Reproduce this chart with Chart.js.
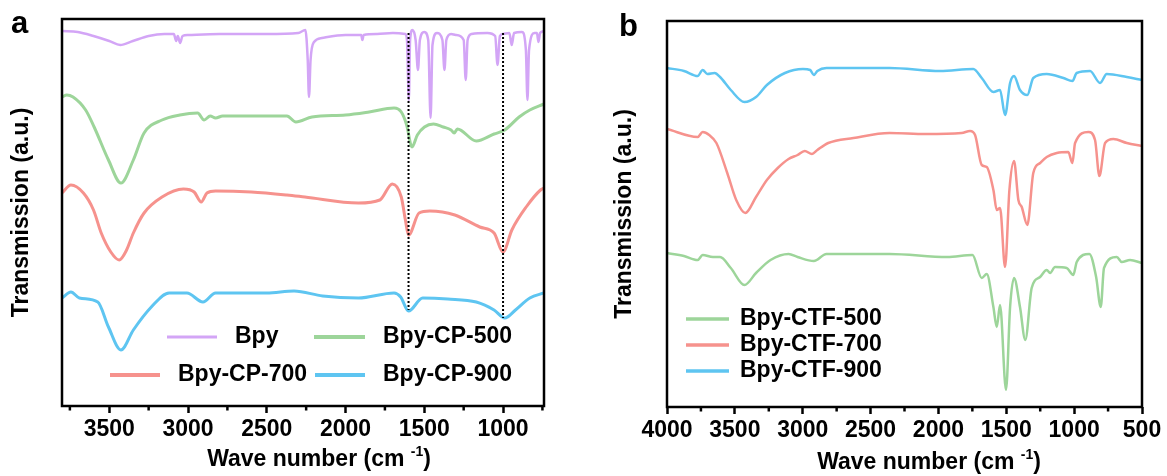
<!DOCTYPE html>
<html>
<head>
<meta charset="utf-8">
<script src="https://cdn.jsdelivr.net/npm/chart.js@4.4.1/dist/chart.umd.min.js"></script>
<style>
    html, body { margin: 0; padding: 0; background: #fff; }
    #wrap { position: relative; width: 1167px; height: 476px; }
    canvas { position: absolute; top: 0; }
    #ftirA { left: 0; }
    #ftirB { left: 583px; }
</style>
</head>
<body>
<div id="wrap">
    <canvas id="ftirA" width="583" height="476"></canvas>
    <canvas id="ftirB" width="584" height="476"></canvas>
</div>
<script>
(function () {
    "use strict";

    // Panel a: wave numbers (cm-1) and transmission (a.u.)
    const bpyWn = [3800, 3700, 3600, 3500, 3430, 3350, 3250, 3150, 3090, 3075, 3065, 3050, 3035, 3000, 2800, 2500, 2300, 2255, 2240, 2232, 2222, 2200, 2150, 2000, 1900, 1893, 1885, 1800, 1700, 1620, 1610, 1598, 1590, 1575, 1555, 1540, 1528, 1500, 1475, 1460, 1448, 1420, 1385, 1372, 1360, 1330, 1300, 1250, 1237, 1225, 1200, 1100, 1050, 1035, 1020, 1000, 960, 945, 930, 880, 855, 845, 835, 800, 785, 775, 765, 740];
    const bpyT = [375, 374, 370, 365, 361, 365, 370, 372, 372, 365, 370, 363, 370, 371, 372, 372, 373, 376, 346, 309, 346, 364, 368, 371, 371, 366, 371, 372, 373, 372, 366, 306, 366, 376, 366, 336, 366, 374, 366, 288, 361, 373, 366, 336, 366, 372, 371, 366, 326, 366, 372, 373, 370, 341, 370, 372, 373, 361, 373, 374, 356, 306, 356, 373, 373, 364, 373, 375];

    const cp500Wn = [3800, 3770, 3730, 3650, 3596, 3505, 3426, 3347, 3279, 3165, 3052, 2939, 2898, 2859, 2825, 2780, 2372, 2315, 2213, 2000, 1850, 1692, 1646, 1612, 1578, 1544, 1499, 1442, 1380, 1330, 1310, 1290, 1170, 1057, 989, 898, 830, 740];
    const cp500T = [309, 311, 309, 296, 279, 246, 223, 246, 273, 286, 291, 293, 286, 290, 288, 290, 290, 284, 289, 291, 294, 298, 294, 281, 259, 271, 279, 282, 279, 276, 273, 277, 265, 272, 276, 289, 296, 302];

    const cp700Wn = [3800, 3743, 3664, 3600, 3551, 3490, 3437, 3390, 3347, 3279, 3165, 3029, 2961, 2916, 2880, 2825, 2598, 2372, 2258, 1918, 1782, 1703, 1646, 1620, 1600, 1533, 1465, 1306, 1148, 1057, 1000, 944, 853, 762, 740];
    const cp700T = [213, 221, 213, 196, 173, 154, 146, 156, 173, 193, 209, 217, 214, 204, 213, 215, 214, 211, 209, 203, 206, 222, 209, 186, 171, 193, 195, 191, 179, 173, 154, 176, 199, 216, 218];

    const cp900Wn = [3800, 3743, 3690, 3573, 3505, 3426, 3347, 3233, 3120, 3007, 2905, 2825, 2500, 2327, 2145, 1918, 1692, 1650, 1600, 1510, 1351, 1170, 1057, 989, 921, 830, 740];
    const cp900T = [108, 114, 108, 104, 79, 56, 76, 99, 113, 113, 104, 113, 113, 115, 110, 108, 113, 109, 95, 108, 107, 104, 96, 88, 96, 108, 113];

    // dotted guide lines
    const guideWn = [1600, 1000];
    const guideTop = [373, 373];
    const guideBottom = [96, 88];

    // Panel b
    const ctf900Wn = [4000, 3875, 3774, 3737, 3702, 3649, 3609, 3530, 3429, 3344, 3264, 3131, 2998, 2945, 2918, 2892, 2825, 2360, 1988, 1743, 1681, 1595, 1546, 1509, 1472, 1443, 1399, 1345, 1301, 1202, 1079, 1013, 981, 883, 809, 760, 612, 502];
    const ctf900T = [339, 336, 331, 337, 333, 334, 330, 317, 305, 310, 322, 334, 338, 337, 332, 336, 339, 339, 336, 338, 329, 315, 317, 292, 324, 331, 317, 312, 329, 333, 329, 326, 334, 336, 324, 333, 330, 327];

    const ctf700Wn = [4000, 3774, 3737, 3689, 3636, 3556, 3490, 3423, 3344, 3264, 3184, 3104, 3038, 2985, 2932, 2892, 2812, 2626, 2360, 2094, 1829, 1767, 1730, 1681, 1644, 1595, 1570, 1546, 1509, 1477, 1443, 1411, 1386, 1345, 1301, 1251, 1202, 1128, 1043, 1013, 993, 895, 846, 814, 772, 711, 612, 502];
    const ctf700T = [278, 270, 275, 272, 264, 234, 207, 194, 210, 227, 239, 248, 252, 256, 253, 257, 264, 269, 274, 273, 274, 276, 272, 242, 240, 217, 197, 199, 140, 217, 246, 207, 200, 182, 234, 244, 250, 254, 255, 244, 264, 275, 267, 231, 264, 268, 264, 261];

    const ctf500Wn = [4000, 3875, 3774, 3737, 3662, 3609, 3530, 3429, 3344, 3237, 3104, 3038, 2918, 2825, 2360, 1935, 1749, 1681, 1644, 1595, 1570, 1546, 1502, 1472, 1443, 1399, 1360, 1313, 1251, 1202, 1177, 1141, 1055, 1006, 981, 888, 838, 804, 780, 686, 649, 588, 502];
    const ctf500T = [154, 151, 147, 152, 150, 150, 139, 122, 134, 147, 153, 150, 146, 153, 153, 150, 152, 129, 133, 100, 80, 102, 17, 100, 129, 100, 67, 119, 130, 137, 134, 140, 139, 132, 145, 153, 130, 100, 139, 150, 145, 147, 144];

    // tick positions (labelled every 500)
    const ticksA = [750, 1000, 1250, 1500, 1750, 2000, 2250, 2500, 2750, 3000, 3250, 3500, 3750];
    const ticksB = [500, 750, 1000, 1250, 1500, 1750, 2000, 2250, 2500, 2750, 3000, 3250, 3500, 3750, 4000];

    const FONT = "'Liberation Sans', Arial, sans-serif";
    const PURPLE = "#d3a5f6";
    const GREEN = "#9dd59a";
    const RED = "#f6928d";
    const BLUE = "#5ec5f1";

    Chart.defaults.font.family = FONT;
    Chart.defaults.font.weight = "bold";
    Chart.defaults.color = "#000";

    const xy = (wn, t) => wn.map((x, i) => ({ x: x, y: t[i] }));

    function curve(label, wn, t, color, width) {
        return {
            label: label,
            data: xy(wn, t),
            borderColor: color,
            borderWidth: width,
            pointRadius: 0,
            cubicInterpolationMode: "monotone",
            fill: false,
        };
    }

    function guide(i) {
        return {
            label: "",
            data: [{ x: guideWn[i], y: guideTop[i] }, { x: guideWn[i], y: guideBottom[i] }],
            borderColor: "#000",
            borderWidth: 2,
            borderDash: [2, 2],
            pointRadius: 0,
            order: -1,
        };
    }

    // frame, minor ticks, panel letter, x title with superscript, legend
    const decor = {
        id: "decor",
        afterDraw(chart, args, opts) {
            const ctx = chart.ctx;
            const a = chart.chartArea;
            const xs = chart.scales.x;
            ctx.save();
            ctx.strokeStyle = "#000";
            ctx.lineWidth = 2.5;
            xs.ticks.forEach((t) => {
                if (t.value % 500 === 0) return;
                const px = xs.getPixelForValue(t.value);
                ctx.beginPath();
                ctx.moveTo(px, a.bottom);
                ctx.lineTo(px, a.bottom + 4.5);
                ctx.stroke();
            });
            ctx.strokeRect(a.left, a.top, a.right - a.left, a.bottom - a.top);

            ctx.fillStyle = "#000";
            ctx.textAlign = "left";
            ctx.textBaseline = "alphabetic";
            ctx.font = "bold 31px " + FONT;
            ctx.fillText(opts.letter.text, opts.letter.x, opts.letter.y);

            // x title
            const main = "Wave number (cm ", sup = "-1", close = ")";
            ctx.textBaseline = "middle";
            ctx.font = "bold 23px " + FONT;
            const w1 = ctx.measureText(main).width;
            const w3 = ctx.measureText(close).width;
            ctx.font = "bold 14px " + FONT;
            const w2 = ctx.measureText(sup).width;
            const sx = opts.xTitle.x - (w1 + w2 + w3) / 2;
            ctx.font = "bold 23px " + FONT;
            ctx.fillText(main, sx, opts.xTitle.y);
            ctx.font = "bold 14px " + FONT;
            ctx.fillText(sup, sx + w1, opts.xTitle.y - 8);
            ctx.font = "bold 23px " + FONT;
            ctx.fillText(close, sx + w1 + w2, opts.xTitle.y);

            // legend
            opts.legend.forEach((it) => {
                const ds = chart.data.datasets[it.ds];
                ctx.strokeStyle = ds.borderColor;
                ctx.lineWidth = it.lw;
                ctx.beginPath();
                ctx.moveTo(it.x, it.y);
                ctx.lineTo(it.x + it.len, it.y);
                ctx.stroke();
                ctx.fillText(ds.label, it.tx, it.y);
            });
            ctx.restore();
        },
    };

    function makeOptions(cfg) {
        return {
            responsive: false,
            animation: false,
            events: [],
            layout: { padding: cfg.padding },
            plugins: {
                legend: { display: false },
                tooltip: { enabled: false },
                decor: cfg.decor,
            },
            scales: {
                x: {
                    type: "linear",
                    reverse: true,
                    min: cfg.xMin,
                    max: cfg.xMax,
                    afterBuildTicks: (s) => {
                        s.ticks = cfg.ticks.map((v) => ({ value: v }));
                    },
                    afterFit: (s) => { s.height = cfg.xHeight; },
                    ticks: {
                        autoSkip: false,
                        maxRotation: 0,
                        padding: 3,
                        font: { size: 23, weight: "bold" },
                        callback: (v) => (v % 500 === 0 ? String(v) : ""),
                    },
                    grid: {
                        drawOnChartArea: false,
                        tickLength: 7,
                        tickWidth: 2.5,
                        tickColor: (c) => (c.tick && c.tick.value % 500 === 0 ? "#000" : "rgba(0,0,0,0)"),
                    },
                    border: { display: false },
                },
                y: {
                    min: 0,
                    max: cfg.yMax,
                    afterFit: (s) => { s.width = cfg.yWidth; },
                    ticks: { display: false },
                    grid: { display: false },
                    border: { display: false },
                    title: {
                        display: true,
                        text: "Transmission (a.u.)",
                        font: { size: 23, weight: "bold" },
                        padding: { top: 8, bottom: 0 },
                    },
                },
            },
        };
    }

    new Chart(document.getElementById("ftirA"), {
        type: "line",
        data: {
            datasets: [
                curve("Bpy", bpyWn, bpyT, PURPLE, 2.5),
                curve("Bpy-CP-500", cp500Wn, cp500T, GREEN, 3),
                curve("Bpy-CP-700", cp700Wn, cp700T, RED, 3),
                curve("Bpy-CP-900", cp900Wn, cp900T, BLUE, 3),
                guide(0),
                guide(1),
            ],
        },
        options: makeOptions({
            padding: { left: 0, right: 39, top: 19, bottom: 0 },
            xMin: 740,
            xMax: 3800,
            yMax: 387,
            xHeight: 70,
            yWidth: 62,
            ticks: ticksA,
            decor: {
                letter: { text: "a", x: 11, y: 33 },
                xTitle: { x: 319, y: 460 },
                legend: [
                    { ds: 0, x: 167, len: 50, tx: 235, y: 337, lw: 3 },
                    { ds: 1, x: 314, len: 51, tx: 383, y: 337, lw: 4 },
                    { ds: 2, x: 110, len: 50, tx: 178, y: 375, lw: 4 },
                    { ds: 3, x: 315, len: 50, tx: 383, y: 375, lw: 4 },
                ],
            },
        }),
        plugins: [decor],
    });

    new Chart(document.getElementById("ftirB"), {
        type: "line",
        data: {
            datasets: [
                curve("Bpy-CTF-500", ctf500Wn, ctf500T, GREEN, 2.5),
                curve("Bpy-CTF-700", ctf700Wn, ctf700T, RED, 2.5),
                curve("Bpy-CTF-900", ctf900Wn, ctf900T, BLUE, 2.5),
            ],
        },
        options: makeOptions({
            padding: { left: 20, right: 25, top: 21, bottom: 0 },
            xMin: 500,
            xMax: 4000,
            yMax: 386,
            xHeight: 69,
            yWidth: 64,
            ticks: ticksB,
            decor: {
                letter: { text: "b", x: 36, y: 36 },
                xTitle: { x: 346, y: 463 },
                legend: [
                    { ds: 0, x: 103, len: 43, tx: 157, y: 319, lw: 3.5 },
                    { ds: 1, x: 103, len: 43, tx: 157, y: 345, lw: 3.5 },
                    { ds: 2, x: 103, len: 43, tx: 157, y: 371, lw: 3.5 },
                ],
            },
        }),
        plugins: [decor],
    });
})();
</script>
</body>
</html>
